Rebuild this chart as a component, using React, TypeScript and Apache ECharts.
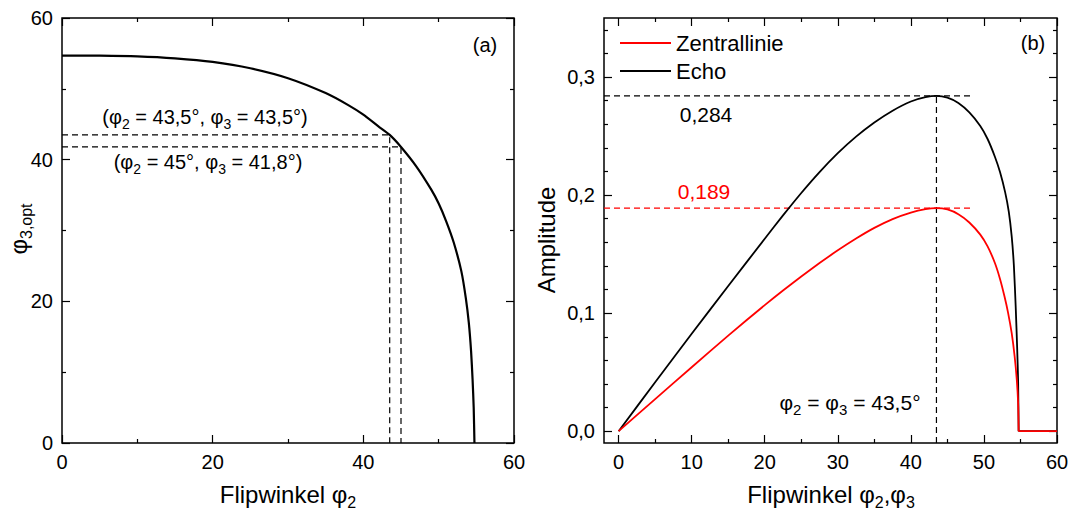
import { useEffect, useRef } from 'react';
import * as echarts from 'echarts';

// ---------- Panel (a): optimal phi3 versus phi2 ----------
const phi2Values = [0, 5, 10, 15, 20, 25, 30, 35, 38, 40, 42, 43.5, 45, 47, 49, 50, 51, 52, 53, 53.6, 54, 54.3, 54.5, 54.65, 54.75];
const phi3OptValues = [54.7, 54.68, 54.58, 54.3, 53.8, 52.9, 51.5, 49.4, 47.7, 46.35, 44.7, 43.5, 41.8, 39.1, 35.8, 33.8, 31.3, 28.3, 24.3, 20.5, 17.0, 13.0, 9.0, 5.0, 0];
const guidePhi2 = [43.5, 45];
const guidePhi3 = [43.5, 41.8];
const leftTickLabels = ['0', '20', '40', '60'];

// ---------- Panel (b): amplitudes along phi2 = phi3 ----------
const echoPhi = [0, 5, 10, 15, 20, 22.5, 25, 27.5, 30, 32.5, 35, 37.5, 40, 42, 43.5, 45, 46.5, 48, 49.5, 50.5, 51.5, 52.2, 52.9, 53.4, 53.8, 54.1, 54.35, 54.55, 54.68, 54.75];
const echoAmp = [0, 0.0415, 0.0825, 0.123, 0.163, 0.1828, 0.2018, 0.2195, 0.2355, 0.2495, 0.2615, 0.2715, 0.2793, 0.2829, 0.284, 0.2825, 0.278, 0.27, 0.2585, 0.2475, 0.2325, 0.2195, 0.2025, 0.186, 0.165, 0.14, 0.105, 0.07, 0.042, 0];
const echoTailPhi = [54.75, 60];
const echoTailAmp = [0, 0];
const centralPhi = [0, 5, 10, 15, 20, 22.5, 25, 27.5, 30, 32.5, 35, 37.5, 40, 42, 43.5, 45, 46.5, 48, 49.5, 50.5, 51.5, 52.2, 52.8, 53.3, 53.8, 54.2, 54.5, 54.68, 54.75];
const centralAmp = [0, 0.0272, 0.0542, 0.081, 0.1068, 0.1192, 0.131, 0.1424, 0.1532, 0.1632, 0.1722, 0.1797, 0.1852, 0.1881, 0.189, 0.1878, 0.1838, 0.1768, 0.1665, 0.1565, 0.1425, 0.129, 0.1145, 0.1005, 0.083, 0.0635, 0.0432, 0.024, 0];
const centralTailPhi = [54.75, 60];
const centralTailAmp = [0, 0];
const peakPhi = 43.5;
const echoPeak = 0.284;
const centralPeak = 0.189;
const guideEndPhi = 48.6;
const rightXMin = -2;
const rightXMax = 60;
const rightYMin = -0.01;
const rightYMax = 0.35;
const rightXMajor = [0, 10, 20, 30, 40, 50, 60];
const rightXMinor = [5, 15, 25, 35, 45, 55];
const rightYMajor = [0, 0.1, 0.2, 0.3];
const rightYMinor = [0.02, 0.04, 0.06, 0.08, 0.12, 0.14, 0.16, 0.18, 0.22, 0.24, 0.26, 0.28, 0.32, 0.34];

const FONT = "'Liberation Sans', Arial, Helvetica, sans-serif";
const tickStyle = { color: '#000', width: 1.2 };
const labelStyle = { show: true, color: '#000', fontSize: 20, fontFamily: FONT, margin: 9 };
const noLabel = { show: false };

const zip = (a: number[], b: number[]) => a.map((v, i) => [v, b[i]]);

const baseAxis = (o: any) => ({
  type: 'value',
  axisLine: { show: false, onZero: false },
  splitLine: { show: false },
  minorSplitLine: { show: false },
  ...o,
});

const rich = {
  n: { fontSize: 20, fontFamily: FONT, lineHeight: 28, verticalAlign: 'middle', fill: '#000' },
  p: { fontSize: 20, fontFamily: FONT, lineHeight: 28, verticalAlign: 'middle', fill: '#000' },
  s: { fontSize: 14, fontFamily: FONT, lineHeight: 14, verticalAlign: 'bottom', fill: '#000' },
  n2: { fontSize: 21, fontFamily: FONT, lineHeight: 29, verticalAlign: 'middle', fill: '#000' },
  s2: { fontSize: 15, fontFamily: FONT, lineHeight: 15, verticalAlign: 'bottom', fill: '#000' },
  t: { fontSize: 24, fontFamily: FONT, lineHeight: 32, verticalAlign: 'middle', fill: '#000' },
  ts: { fontSize: 16, fontFamily: FONT, lineHeight: 16, verticalAlign: 'bottom', fill: '#000' },
};

const txt = (x: number, y: number, text: string, extra: any = {}) => ({
  type: 'text',
  x,
  y,
  silent: true,
  ...extra,
  style: {
    text,
    rich,
    fontSize: 20,
    fontFamily: FONT,
    fill: '#000',
    align: 'center',
    verticalAlign: 'middle',
    ...(extra.style || {}),
  },
});

export default function App() {
  const ref = useRef<HTMLDivElement>(null);
  useEffect(() => {
    if (!ref.current) return;
    const chart = echarts.init(ref.current, undefined, { renderer: 'svg' });

    const leftTicksCommon = {
      min: 0,
      max: 60,
      interval: 20,
      axisTick: { show: true, inside: true, length: 8, lineStyle: tickStyle },
      minorTick: { show: true, splitNumber: 2, length: 4, lineStyle: tickStyle },
    };
    const leftLabel = {
      ...labelStyle,
      formatter: (v: number) => leftTickLabels[Math.round(v / 20)] ?? String(v),
    };

    const xAxis = [
      baseAxis({ gridIndex: 0, position: 'bottom', ...leftTicksCommon, axisLabel: leftLabel }),
      baseAxis({ gridIndex: 0, position: 'top', ...leftTicksCommon, axisLabel: noLabel }),
      baseAxis({
        gridIndex: 1, position: 'bottom', min: rightXMin, max: rightXMax,
        axisTick: { show: true, inside: true, length: 8, lineStyle: tickStyle, customValues: rightXMajor },
        axisLabel: { ...labelStyle, customValues: rightXMajor },
      }),
      baseAxis({
        gridIndex: 1, position: 'bottom', min: rightXMin, max: rightXMax,
        axisTick: { show: true, inside: true, length: 4, lineStyle: tickStyle, customValues: rightXMinor },
        axisLabel: noLabel,
      }),
      baseAxis({
        gridIndex: 1, position: 'top', min: rightXMin, max: rightXMax,
        axisTick: { show: true, inside: true, length: 8, lineStyle: tickStyle, customValues: rightXMajor },
        axisLabel: noLabel,
      }),
      baseAxis({
        gridIndex: 1, position: 'top', min: rightXMin, max: rightXMax,
        axisTick: { show: true, inside: true, length: 4, lineStyle: tickStyle, customValues: rightXMinor },
        axisLabel: noLabel,
      }),
    ];

    const yFmt = (v: number) => v.toFixed(1).replace('.', ',');
    const yAxis = [
      baseAxis({ gridIndex: 0, position: 'left', ...leftTicksCommon, axisLabel: leftLabel }),
      baseAxis({ gridIndex: 0, position: 'right', ...leftTicksCommon, axisLabel: noLabel }),
      baseAxis({
        gridIndex: 1, position: 'left', min: rightYMin, max: rightYMax,
        axisTick: { show: true, inside: true, length: 8, lineStyle: tickStyle, customValues: rightYMajor },
        axisLabel: { ...labelStyle, customValues: rightYMajor, formatter: yFmt },
      }),
      baseAxis({
        gridIndex: 1, position: 'left', min: rightYMin, max: rightYMax,
        axisTick: { show: true, inside: true, length: 4, lineStyle: tickStyle, customValues: rightYMinor },
        axisLabel: noLabel,
      }),
      baseAxis({
        gridIndex: 1, position: 'right', min: rightYMin, max: rightYMax,
        axisTick: { show: true, inside: true, length: 8, lineStyle: tickStyle, customValues: rightYMajor },
        axisLabel: noLabel,
      }),
      baseAxis({
        gridIndex: 1, position: 'right', min: rightYMin, max: rightYMax,
        axisTick: { show: true, inside: true, length: 4, lineStyle: tickStyle, customValues: rightYMinor },
        axisLabel: noLabel,
      }),
    ];

    const dashed = (color: string) => ({ color, width: 1.2, type: [6, 4] });
    const lineBase = { type: 'line', symbol: 'none', showSymbol: false, silent: true, animation: false };

    const series: any[] = [
      // panel (a)
      {
        ...lineBase, name: 'phi3opt', xAxisIndex: 0, yAxisIndex: 0,
        data: zip(phi2Values, phi3OptValues), smooth: 0.2,
        lineStyle: { color: '#000', width: 2.2 },
      },
      ...guidePhi2.map((g2, i) => ({
        ...lineBase, name: 'guideA' + i, xAxisIndex: 0, yAxisIndex: 0,
        data: [[0, guidePhi3[i]], [g2, guidePhi3[i]], [g2, 0]],
        lineStyle: dashed('#000'),
      })),
      // panel (b)
      {
        ...lineBase, name: 'echoGuideH', xAxisIndex: 2, yAxisIndex: 2,
        data: [[rightXMin, echoPeak], [guideEndPhi, echoPeak]], lineStyle: dashed('#000'),
      },
      {
        ...lineBase, name: 'centralGuideH', xAxisIndex: 2, yAxisIndex: 2,
        data: [[rightXMin, centralPeak], [guideEndPhi, centralPeak]], lineStyle: dashed('#ff0000'),
      },
      {
        ...lineBase, name: 'peakGuideV', xAxisIndex: 2, yAxisIndex: 2,
        data: [[peakPhi, rightYMin], [peakPhi, echoPeak]], lineStyle: dashed('#000'),
      },
      {
        ...lineBase, name: 'Echo', xAxisIndex: 2, yAxisIndex: 2,
        data: zip(echoPhi, echoAmp), smooth: 0.2,
        lineStyle: { color: '#000', width: 1.8 }, itemStyle: { color: '#000' },
      },
      {
        ...lineBase, name: 'EchoTail', xAxisIndex: 2, yAxisIndex: 2,
        data: zip(echoTailPhi, echoTailAmp),
        lineStyle: { color: '#000', width: 1.8 },
      },
      {
        ...lineBase, name: 'Zentrallinie', xAxisIndex: 2, yAxisIndex: 2,
        data: zip(centralPhi, centralAmp), smooth: 0.2,
        lineStyle: { color: '#ff0000', width: 1.8 }, itemStyle: { color: '#ff0000' },
      },
      {
        ...lineBase, name: 'ZentrallinieTail', xAxisIndex: 2, yAxisIndex: 2,
        data: zip(centralTailPhi, centralTailAmp),
        lineStyle: { color: '#ff0000', width: 1.8 },
      },
    ];

    const grid = [
      { left: 62, top: 18, width: 452, height: 425 },
      { left: 604, top: 18, width: 453, height: 425 },
    ].map((g) => ({
      ...g, show: true, borderColor: '#000', borderWidth: 1.5, backgroundColor: 'transparent',
      containLabel: false, outerBoundsMode: 'none',
    }));

    chart.setOption({
      animation: false,
      backgroundColor: '#fff',
      textStyle: { fontFamily: FONT },
      grid,
      xAxis,
      yAxis,
      legend: {
        data: [
          { name: 'Zentrallinie', icon: 'rect' },
          { name: 'Echo', icon: 'rect' },
        ],
        orient: 'vertical',
        left: 615,
        top: 26,
        padding: 5,
        itemWidth: 51,
        itemHeight: 2,
        itemGap: 4,
        selectedMode: false,
        textStyle: { fontSize: 22, fontFamily: FONT, color: '#000', lineHeight: 24 },
      },
      series,
      graphic: [
        txt(485, 45, '(a)'),
        txt(1033, 43, '(b)'),
        txt(205, 117, '{n|(}{p|φ}{s|2}{n| = 43,5°, }{p|φ}{s|3}{n| = 43,5°)}'),
        txt(208, 162, '{n|(}{p|φ}{s|2}{n| = 45°, }{p|φ}{s|3}{n| = 41,8°)}'),
        txt(706, 114, '0,284', { style: { fontSize: 21 } }),
        txt(704, 191, '0,189', { style: { fontSize: 21, fill: '#ff0000' } }),
        txt(850, 402, '{n2|φ}{s2|2}{n2| = φ}{s2|3}{n2| = 43,5°}'),
        txt(288, 494, '{t|Flipwinkel φ}{ts|2}'),
        txt(831, 494, '{t|Flipwinkel φ}{ts|2}{t|,φ}{ts|3}'),
        txt(18, 229, '{t|φ}{ts|3,opt}', { rotation: Math.PI / 2 }),
        txt(546, 240, '{t|Amplitude}', { rotation: Math.PI / 2 }),
      ],
    });

    return () => chart.dispose();
  }, []);

  return (
    <div
      ref={ref}
      style={{ position: 'absolute', left: 0, top: 0, width: 1070, height: 520, background: '#fff' }}
    />
  );
}
